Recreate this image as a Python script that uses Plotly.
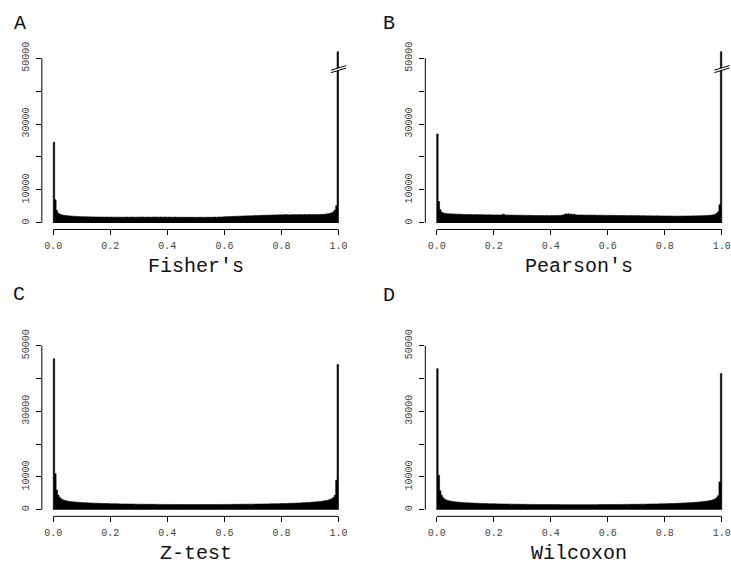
import numpy as np
import plotly.graph_objects as go

# ---------------------------------------------------------------------------
# Histogram counts of p-values, 200 equal-width bins on [0, 1]
# ---------------------------------------------------------------------------
N_BINS = 200

FISHER = [
    24500, 7000, 3800, 3000, 2700, 2500, 2400, 2300, 2250, 2200,
    2150, 2120, 2080, 2050, 2010, 1990, 1960, 1940, 1920, 1900,
    1880, 1850, 1870, 1830, 1810, 1840, 1800, 1790, 1820, 1780,
    1790, 1760, 1800, 1770, 1750, 1780, 1740, 1770, 1750, 1730,
    1760, 1740, 1720, 1750, 1730, 1700, 1740, 1720, 1750, 1710,
    1730, 1760, 1720, 1700, 1740, 1780, 1730, 1710, 1750, 1720,
    1760, 1730, 1790, 1750, 1720, 1770, 1740, 1760, 1710, 1740,
    1780, 1740, 1760, 1720, 1750, 1790, 1740, 1730, 1770, 1750,
    1720, 1760, 1730, 1700, 1740, 1770, 1720, 1690, 1730, 1710,
    1700, 1740, 1710, 1680, 1720, 1690, 1710, 1680, 1700, 1670,
    1690, 1710, 1680, 1720, 1690, 1660, 1700, 1730, 1690, 1710,
    1740, 1700, 1730, 1760, 1720, 1750, 1790, 1760, 1800, 1830,
    1880, 1850, 1920, 1900, 1950, 1910, 1980, 2000, 1960, 2030,
    2050, 2010, 2080, 2120, 2060, 2140, 2100, 2170, 2130, 2200,
    2180, 2240, 2200, 2270, 2230, 2300, 2260, 2330, 2290, 2350,
    2310, 2380, 2340, 2400, 2360, 2420, 2380, 2450, 2410, 2470,
    2430, 2490, 2450, 2510, 2460, 2420, 2500, 2470, 2530, 2480,
    2440, 2520, 2480, 2540, 2490, 2450, 2530, 2500, 2470, 2540,
    2510, 2480, 2550, 2520, 2490, 2570, 2530, 2560, 2600, 2580,
    2650, 2700, 2750, 2850, 2950, 3100, 3400, 3900, 5200, 60000,
]

PEARSON = [
    27000, 6500, 4000, 3300, 3000, 2900, 2850, 2800, 2800, 2750,
    2720, 2680, 2700, 2650, 2620, 2660, 2600, 2630, 2580, 2550,
    2580, 2530, 2560, 2500, 2540, 2490, 2520, 2470, 2510, 2460,
    2490, 2440, 2480, 2420, 2460, 2410, 2450, 2400, 2440, 2390,
    2420, 2380, 2430, 2400, 2370, 2410, 2650, 2500, 2380, 2350,
    2390, 2340, 2370, 2330, 2360, 2310, 2350, 2300, 2340, 2290,
    2320, 2280, 2310, 2260, 2300, 2250, 2290, 2240, 2280, 2230,
    2270, 2220, 2260, 2210, 2250, 2200, 2240, 2210, 2230, 2190,
    2220, 2250, 2200, 2240, 2280, 2230, 2270, 2320, 2400, 2480,
    2750, 2600, 2800, 2550, 2700, 2500, 2620, 2450, 2400, 2380,
    2420, 2370, 2400, 2350, 2390, 2340, 2380, 2330, 2370, 2320,
    2360, 2310, 2350, 2300, 2340, 2290, 2330, 2280, 2320, 2270,
    2310, 2260, 2300, 2250, 2290, 2240, 2280, 2230, 2270, 2220,
    2260, 2210, 2250, 2200, 2240, 2190, 2230, 2180, 2220, 2170,
    2210, 2160, 2200, 2150, 2190, 2140, 2180, 2130, 2170, 2120,
    2160, 2110, 2150, 2100, 2140, 2090, 2130, 2080, 2120, 2070,
    2110, 2060, 2100, 2050, 2090, 2040, 2080, 2030, 2070, 2040,
    2080, 2050, 2090, 2060, 2100, 2070, 2110, 2080, 2120, 2100,
    2140, 2110, 2160, 2130, 2180, 2150, 2200, 2180, 2230, 2210,
    2260, 2300, 2350, 2420, 2500, 2650, 2900, 3400, 5500, 60000,
]

ZTEST = [
    46000, 11000, 6000, 4500, 3800, 3400, 3100, 2900, 2800, 2700,
    2600, 2540, 2480, 2430, 2390, 2350, 2310, 2280, 2250, 2220,
    2200, 2170, 2150, 2120, 2100, 2080, 2060, 2040, 2020, 2000,
    1990, 1970, 1960, 1940, 1930, 1910, 1900, 1890, 1880, 1870,
    1860, 1850, 1840, 1830, 1820, 1810, 1800, 1790, 1790, 1780,
    1770, 1760, 1760, 1750, 1740, 1740, 1730, 1720, 1720, 1710,
    1710, 1700, 1700, 1690, 1690, 1680, 1680, 1670, 1670, 1670,
    1660, 1660, 1650, 1650, 1650, 1640, 1640, 1640, 1630, 1630,
    1630, 1630, 1620, 1620, 1620, 1620, 1610, 1610, 1610, 1610,
    1610, 1600, 1600, 1600, 1600, 1600, 1600, 1600, 1600, 1600,
    1600, 1600, 1600, 1600, 1600, 1600, 1600, 1600, 1610, 1610,
    1610, 1610, 1610, 1620, 1620, 1620, 1620, 1630, 1630, 1630,
    1640, 1640, 1640, 1650, 1650, 1650, 1660, 1660, 1670, 1670,
    1670, 1680, 1680, 1690, 1690, 1700, 1700, 1710, 1710, 1720,
    1720, 1730, 1740, 1740, 1750, 1760, 1760, 1770, 1780, 1790,
    1790, 1800, 1810, 1820, 1830, 1840, 1850, 1860, 1870, 1880,
    1890, 1900, 1910, 1930, 1940, 1960, 1970, 1990, 2000, 2020,
    2040, 2060, 2080, 2100, 2120, 2150, 2170, 2200, 2220, 2250,
    2280, 2310, 2350, 2380, 2420, 2460, 2510, 2560, 2620, 2680,
    2750, 2830, 2920, 3030, 3180, 3400, 3750, 4400, 9000, 44300,
]

WILCOXON = [
    43000, 10500, 5800, 4400, 3700, 3300, 3050, 2850, 2750, 2650,
    2560, 2500, 2440, 2390, 2350, 2310, 2270, 2240, 2210, 2180,
    2160, 2130, 2110, 2080, 2060, 2040, 2020, 2000, 1980, 1960,
    1950, 1930, 1920, 1900, 1890, 1870, 1860, 1850, 1840, 1830,
    1820, 1810, 1800, 1790, 1780, 1770, 1760, 1750, 1750, 1740,
    1730, 1720, 1720, 1710, 1700, 1700, 1690, 1680, 1680, 1670,
    1670, 1660, 1660, 1650, 1650, 1640, 1640, 1630, 1630, 1630,
    1620, 1620, 1610, 1610, 1610, 1600, 1600, 1600, 1590, 1590,
    1590, 1590, 1580, 1580, 1580, 1580, 1570, 1570, 1570, 1570,
    1570, 1560, 1560, 1560, 1560, 1560, 1560, 1560, 1560, 1560,
    1560, 1560, 1560, 1560, 1560, 1560, 1560, 1560, 1570, 1570,
    1570, 1570, 1570, 1580, 1580, 1580, 1580, 1590, 1590, 1590,
    1600, 1600, 1600, 1610, 1610, 1610, 1620, 1620, 1630, 1630,
    1630, 1640, 1640, 1650, 1650, 1660, 1660, 1670, 1670, 1680,
    1680, 1690, 1700, 1700, 1710, 1720, 1720, 1730, 1740, 1750,
    1750, 1760, 1770, 1780, 1790, 1800, 1810, 1820, 1830, 1840,
    1850, 1860, 1870, 1890, 1900, 1920, 1930, 1950, 1960, 1980,
    2000, 2020, 2040, 2060, 2080, 2110, 2130, 2160, 2180, 2210,
    2240, 2270, 2310, 2340, 2380, 2420, 2470, 2520, 2580, 2640,
    2710, 2790, 2880, 2990, 3140, 3360, 3700, 4300, 8500, 41500,
]

PANEL_LETTERS = ["A", "B", "C", "D"]
TEST_NAMES = ["Fisher's", "Pearson's", "Z-test", "Wilcoxon"]
SERIES = [FISHER, PEARSON, ZTEST, WILCOXON]
TRUNCATED = [True, True, False, False]  # last bin runs off the axis

X_TICKS = [0.0, 0.2, 0.4, 0.6, 0.8, 1.0]
X_TICK_TEXT = ["0.0", "0.2", "0.4", "0.6", "0.8", "1.0"]
Y_TICKS = [0, 10000, 20000, 30000, 40000, 50000]
Y_TICK_TEXT = ["0", "10000", "", "30000", "", "50000"]
Y_MAX = 50000
BREAK_AT = 46300

# ---------------------------------------------------------------------------
# Page geometry (pixels): plotting box of each panel = left, right, top, bottom
# ---------------------------------------------------------------------------
W, H = 731, 570
BOXES = [
    (41.9, 350.4, 42.3, 223.4),
    (425.9, 734.2, 42.3, 223.4),
    (41.9, 350.4, 335.0, 515.4),
    (425.9, 734.2, 335.0, 515.4),
]
LETTER_POS = [(20, 14), (390, 14), (19, 290), (390, 291)]
PAD = 0.04  # R-style axis padding

FONT = "Courier New, Liberation Mono, monospace"
INK = "black"

# histogram outline as a step curve over the bin edges
edges = np.arange(N_BINS + 1) / N_BINS

fig = go.Figure()
layout = {}
shapes = []
annotations = []

for k in range(4):
    sfx = "" if k == 0 else str(k + 1)
    left, right, top, bottom = BOXES[k]
    xr0, xr1 = -PAD, 1 + PAD
    if right > W:  # panel runs past the page edge; keep scale, trim range
        xr1 = xr0 + (xr1 - xr0) * (W - left) / (right - left)
        right = W
    yr0, yr1 = -PAD * Y_MAX, (1 + PAD) * Y_MAX
    xdom = [left / W, right / W]
    ydom = [1 - bottom / H, 1 - top / H]

    def px(x, _l=left, _r=right, _a=xr0, _b=xr1):
        return (_l + (x - _a) / (_b - _a) * (_r - _l)) / W

    def py(y, _t=top, _bt=bottom, _a=yr0, _b=yr1):
        return 1 - (_bt - (y - _a) / (_b - _a) * (_bt - _t)) / H

    counts = list(SERIES[k])
    step_x = np.concatenate([[0.0], edges, [1.0]])
    step_y = [0] + counts + [counts[-1], 0]
    fig.add_trace(go.Scatter(
        x=step_x, y=step_y, mode="lines", line_shape="hv",
        line=dict(color=INK, width=0.6), fill="tozeroy", fillcolor=INK,
        xaxis="x" + sfx, yaxis="y" + sfx,
        showlegend=False, hoverinfo="skip",
    ))

    layout["xaxis" + sfx] = dict(
        domain=xdom, range=[xr0, xr1], anchor="y" + sfx,
        tickmode="array", tickvals=X_TICKS, ticktext=X_TICK_TEXT,
        ticks="outside", ticklen=5, tickwidth=1, tickcolor=INK,
        showline=False, showgrid=False, zeroline=False,
        ticklabelstandoff=2, ticklabeloverflow="allow",
        tickfont=dict(family=FONT, size=10, color="#444"),
        fixedrange=True,
    )
    layout["yaxis" + sfx] = dict(
        domain=ydom, range=[yr0, yr1], anchor="x" + sfx,
        tickmode="array", tickvals=Y_TICKS, ticktext=Y_TICK_TEXT,
        ticks="outside", ticklen=5, tickwidth=1, tickcolor=INK,
        tickangle=-90, ticklabelstandoff=3, ticklabeloverflow="allow",
        showline=False, showgrid=False, zeroline=False,
        tickfont=dict(family=FONT, size=10, color="#444"),
        fixedrange=True,
    )

    # R-style axis lines spanning only the first to last tick
    shapes.append(dict(type="line", xref="paper", yref="paper",
                       x0=px(0), x1=px(1), y0=ydom[0], y1=ydom[0],
                       line=dict(color=INK, width=1)))
    shapes.append(dict(type="line", xref="paper", yref="paper",
                       x0=xdom[0], x1=xdom[0], y0=py(0), y1=py(Y_MAX),
                       line=dict(color=INK, width=1)))

    # axis-break slashes on the truncated bin at p = 1
    if TRUNCATED[k]:
        xa, xb = 0.974, 1.027
        lo = (BREAK_AT - 700, BREAK_AT + 700)
        hi = (BREAK_AT + 60, BREAK_AT + 1440)
        shapes.append(dict(
            type="path", xref="paper", yref="paper",
            path=(f"M{px(xa)},{py(lo[0])} L{px(xb)},{py(lo[1])} "
                  f"L{px(xb)},{py(hi[1])} L{px(xa)},{py(hi[0])} Z"),
            fillcolor="white", line=dict(width=0), layer="above"))
        for a, b in (lo, hi):
            shapes.append(dict(type="line", xref="paper", yref="paper",
                               x0=px(xa), y0=py(a), x1=px(xb), y1=py(b),
                               line=dict(color=INK, width=1), layer="above"))

    # test name under the axis
    annotations.append(dict(
        text=TEST_NAMES[k], xref="paper", yref="paper",
        x=px(0.5), y=1 - (bottom + 38) / H,
        xanchor="center", yanchor="middle", showarrow=False,
        font=dict(family=FONT, size=20, color="#111"),
    ))
    # panel letter
    lx, ly = LETTER_POS[k]
    annotations.append(dict(
        text=PANEL_LETTERS[k], xref="paper", yref="paper",
        x=lx / W, y=1 - ly / H, xanchor="center", yanchor="middle",
        showarrow=False, font=dict(family=FONT, size=20, color="#111"),
    ))

fig.update_layout(
    width=W, height=H,
    margin=dict(l=0, r=0, t=0, b=0),
    paper_bgcolor="white", plot_bgcolor="white",
    shapes=shapes, annotations=annotations,
    **layout,
)

fig.write_html("out.html")
